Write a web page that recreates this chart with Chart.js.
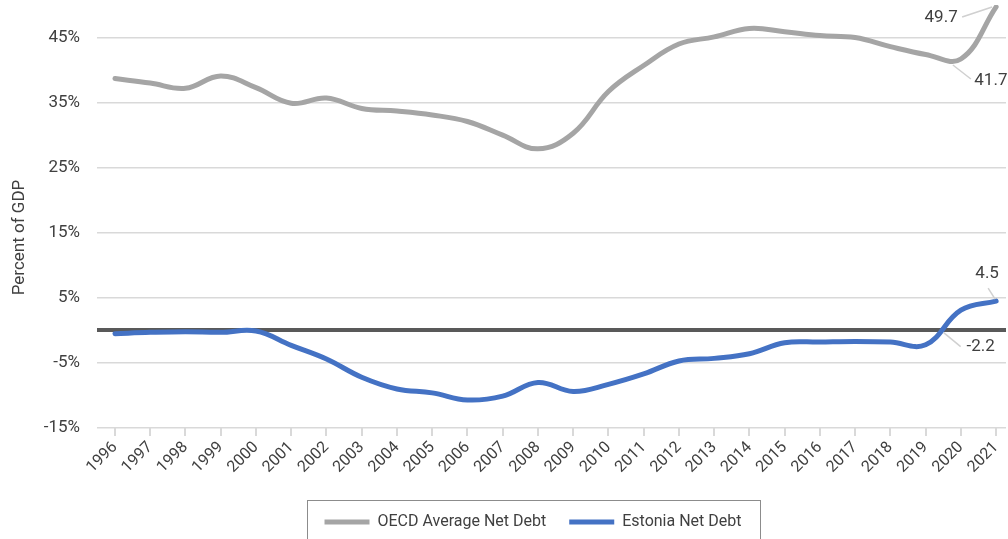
<!DOCTYPE html>
<html>
<head>
<meta charset="utf-8">
<script src="https://cdn.jsdelivr.net/npm/chart.js@4"></script>
<style>
  html, body { margin: 0; padding: 0; background: #fff; }
  #wrap { width: 1008px; height: 539px; position: relative; }
</style>
</head>
<body>
<div id="wrap"><canvas id="debtChart"></canvas></div>
<script>
const years = [1996, 1997, 1998, 1999, 2000, 2001, 2002, 2003, 2004, 2005,
    2006, 2007, 2008, 2009, 2010, 2011, 2012, 2013, 2014, 2015, 2016, 2017,
    2018, 2019, 2020, 2021];
const oecdDebt = [38.7, 38.0, 37.2, 39.1, 37.3, 34.9, 35.7, 34.1, 33.7, 33.1,
    32.1, 30.0, 27.9, 30.3, 36.7, 40.7, 44.0, 45.1, 46.4, 45.9, 45.3, 45.0,
    43.6, 42.4, 41.7, 49.7];
const estoniaDebt = [-0.5, -0.3, -0.2, -0.3, -0.1, -2.3, -4.4, -7.2, -9.0, -9.6,
    -10.7, -10.1, -8.0, -9.4, -8.3, -6.7, -4.7, -4.3, -3.6, -1.9, -1.8, -1.7,
    -1.8, -2.2, 3.1, 4.5];
const yTickValues = [-15, -5, 0, 5, 15, 25, 35, 45];
const seriesNames = ['OECD Average Net Debt', 'Estonia Net Debt'];
const yTitle = 'Percent of GDP';

const FONT = "'Roboto', 'Liberation Sans', sans-serif";
const TEXT = '#404040';

// labels on the end points, offsets in px from the point
const pointNotes = [
    { ds: 0, year: 2021, dx: -55, dy: 11, lead: [-34, 10, -4, 0] },
    { ds: 0, year: 2020, dx: 30, dy: 22, lead: [-8, 6, 10, 20] },
    { ds: 1, year: 2021, dx: -9, dy: -27, lead: [-8, -13, -1, -2] },
    { ds: 1, year: 2019, dx: 55, dy: 2, lead: [18, -12, 35, 2] }
];

const notesPlugin = {
    id: 'notes',
    afterDatasetsDraw(chart) {
        const ctx = chart.ctx;
        ctx.save();
        pointNotes.forEach(n => {
            const i = years.indexOf(n.year);
            const pt = chart.getDatasetMeta(n.ds).data[i];
            const val = chart.data.datasets[n.ds].data[i].y;
            ctx.strokeStyle = '#d0d0d0';
            ctx.lineWidth = 1.5;
            ctx.beginPath();
            ctx.moveTo(pt.x + n.lead[0], pt.y + n.lead[1]);
            ctx.lineTo(pt.x + n.lead[2], pt.y + n.lead[3]);
            ctx.stroke();
            ctx.fillStyle = TEXT;
            ctx.font = '17px ' + FONT;
            ctx.textAlign = 'center';
            ctx.textBaseline = 'middle';
            ctx.fillText(val.toFixed(1), pt.x + n.dx, pt.y + n.dy);
        });
        ctx.restore();
    }
};

// legend nudged right, box round it, rotated axis title
const framePlugin = {
    id: 'frame',
    afterLayout(chart) {
        chart.legend.left += 60;
    },
    afterDraw(chart) {
        const ctx = chart.ctx;
        ctx.save();
        const boxes = chart.legend.legendHitBoxes;
        if (boxes && boxes.length) {
            const left = Math.min(...boxes.map(b => b.left)) - 18;
            const right = Math.max(...boxes.map(b => b.left + b.width)) + 18;
            ctx.strokeStyle = '#8c8c8c';
            ctx.lineWidth = 1;
            ctx.strokeRect(Math.round(left) + 0.5, 500.5, Math.round(right - left), 60);
        }
        const area = chart.chartArea;
        ctx.translate(20, (area.top + area.bottom) / 2 + 21);
        ctx.rotate(-Math.PI / 2);
        ctx.fillStyle = TEXT;
        ctx.font = '17px ' + FONT;
        ctx.textAlign = 'center';
        ctx.textBaseline = 'middle';
        ctx.fillText(yTitle, 0, 0);
        ctx.restore();
    }
};

document.addEventListener('DOMContentLoaded', function() {
    const toPoints = arr => arr.map((v, i) => ({ x: years[i], y: v }));

    const chartData = {
        datasets: [{
            label: seriesNames[0],
            data: toPoints(oecdDebt),
            borderColor: '#a5a5a5',
            backgroundColor: '#a5a5a5',
            borderWidth: 5,
            borderCapStyle: 'round',
            borderJoinStyle: 'round',
            pointRadius: 0,
            tension: 0.4
        }, {
            label: seriesNames[1],
            data: toPoints(estoniaDebt),
            borderColor: '#4472c4',
            backgroundColor: '#4472c4',
            borderWidth: 5,
            borderCapStyle: 'round',
            borderJoinStyle: 'round',
            pointRadius: 0,
            tension: 0.4
        }]
    };

    new Chart(document.getElementById('debtChart').getContext('2d'), {
        type: 'line',
        data: chartData,
        plugins: [notesPlugin, framePlugin],
        options: {
            responsive: true,
            maintainAspectRatio: false,
            animation: false,
            layout: { padding: { top: 5, right: 2, left: 0, bottom: -1 } },
            plugins: {
                tooltip: { enabled: false },
                legend: {
                    position: 'bottom',
                    labels: {
                        usePointStyle: true,
                        pointStyle: 'line',
                        pointStyleWidth: 45,
                        boxWidth: 45,
                        padding: 23,
                        color: TEXT,
                        font: { family: FONT, size: 16 }
                    }
                }
            },
            scales: {
                x: {
                    type: 'linear',
                    min: 1995.49,
                    max: 2021.28,
                    afterBuildTicks(scale) {
                        scale.ticks = years.map(y => ({ value: y }));
                    },
                    afterFit(scale) {
                        scale.height = 63;
                        scale.paddingLeft = 0;
                        scale.paddingRight = 0;
                    },
                    border: { display: false },
                    grid: {
                        drawOnChartArea: false,
                        drawTicks: true,
                        tickLength: 8,
                        color: '#d9d9d9',
                        lineWidth: 2
                    },
                    ticks: {
                        minRotation: 45,
                        maxRotation: 45,
                        autoSkip: false,
                        padding: 2,
                        color: TEXT,
                        font: { family: FONT, size: 16 },
                        callback: v => String(v)
                    }
                },
                y: {
                    min: -15,
                    max: 50,
                    afterBuildTicks(scale) {
                        scale.ticks = yTickValues.map(v => ({ value: v }));
                    },
                    afterFit(scale) {
                        scale.width = 97;
                        scale.paddingTop = 0;
                        scale.paddingBottom = 0;
                    },
                    border: { display: false },
                    grid: {
                        drawTicks: false,
                        color: c => c.tick && c.tick.value === 0 ? '#595959' : '#d9d9d9',
                        lineWidth: c => c.tick && c.tick.value === 0 ? 4 : 1.5
                    },
                    ticks: {
                        padding: 17,
                        color: TEXT,
                        font: { family: FONT, size: 17 },
                        callback: v => v === 0 ? '' : v + '%'
                    }
                }
            }
        }
    });
});
</script>
</body>
</html>
